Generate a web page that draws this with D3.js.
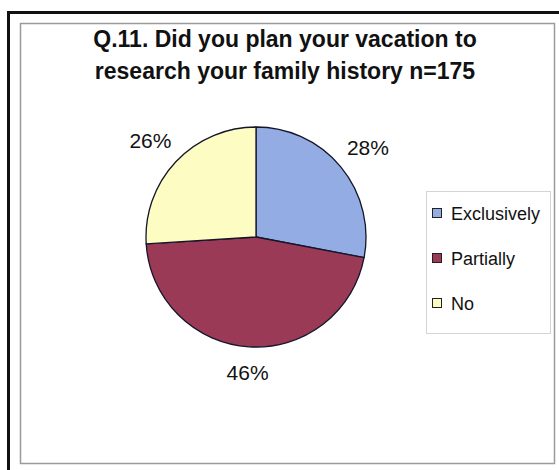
<!DOCTYPE html>
<html>
<head>
<meta charset="utf-8">
<script src="https://cdn.jsdelivr.net/npm/d3@7"></script>
<style>
html,body{margin:0;padding:0;background:#fff;}
svg{display:block;font-family:"Liberation Sans",Arial,sans-serif;}
</style>
</head>
<body>
<svg id="chart" width="559" height="470"></svg>
<script>
const categories = ["Exclusively", "Partially", "No"];
const values = [28, 46, 26];
const colors = ["#93ade4", "#9b3a57", "#fdfcc2"];
const titleLines = ["Q.11. Did you plan your vacation to", "research your family history n=175"];

const svg = d3.select("#chart");

// outer black frame
svg.append("rect").attr("x", 8.5).attr("y", 12.5).attr("width", 600).attr("height", 500)
  .attr("fill", "#fff").attr("stroke", "#111").attr("stroke-width", 3);
// inner gray frame
svg.append("rect").attr("x", 20.5).attr("y", 23.5).attr("width", 534).attr("height", 440)
  .attr("fill", "#fff").attr("stroke", "#9a9a9a").attr("stroke-width", 1.5);

// title
const title = svg.append("text").attr("text-anchor", "middle")
  .attr("font-weight", "bold").attr("font-size", 23).attr("fill", "#111");
titleLines.forEach((t, i) => {
  title.append("tspan").attr("x", 285).attr("y", 47 + i * 32).text(t);
});

// pie
const cx = 256, cy = 237, r = 110;
const pie = d3.pie().sort(null).value(d => d)(values);
const arc = d3.arc().innerRadius(0).outerRadius(r);
const g = svg.append("g").attr("transform", `translate(${cx},${cy})`);
g.selectAll("path").data(pie).join("path")
  .attr("d", arc)
  .attr("fill", (d, i) => colors[i])
  .attr("stroke", "#15152a").attr("stroke-width", 1.3);

// labels: box edge placed a fixed gap outside the rim
const total = d3.sum(values);
const hw = 21, hh = 8, gap = 14;
g.selectAll("text.lbl").data(pie).join("text")
  .attr("class", "lbl")
  .attr("transform", d => {
    const a = (d.startAngle + d.endAngle) / 2;
    const s = Math.sin(a), c = Math.cos(a);
    const dist = r + gap + hw * Math.abs(s) + hh * Math.abs(c);
    return `translate(${dist * s},${-dist * c + 3})`;
  })
  .attr("text-anchor", "middle")
  .attr("dy", "0.35em")
  .attr("font-size", 21).attr("fill", "#111")
  .text(d => Math.round(d.data / total * 100) + "%");

// legend
svg.append("rect").attr("x", 426.5).attr("y", 191.5).attr("width", 124).attr("height", 142)
  .attr("fill", "#fff").attr("stroke", "#d4d4d4").attr("stroke-width", 1);
const leg = svg.append("g");
categories.forEach((c, i) => {
  const y = 220 + i * 45;
  leg.append("rect").attr("x", 432.5).attr("y", y - 11.5).attr("width", 9).attr("height", 9)
    .attr("fill", colors[i]).attr("stroke", "#222").attr("stroke-width", 1);
  leg.append("text").attr("x", 451).attr("y", y).attr("font-size", 18).attr("fill", "#111").text(c);
});
</script>
</body>
</html>
